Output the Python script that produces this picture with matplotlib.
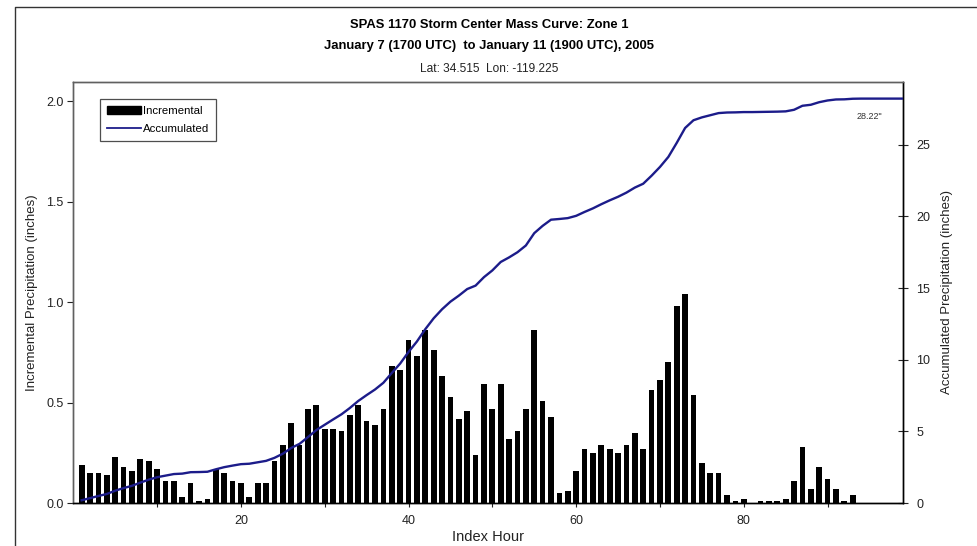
import numpy as np
import matplotlib
matplotlib.use("Agg")
import matplotlib.pyplot as plt
from matplotlib.lines import Line2D
from matplotlib.patches import Patch
from matplotlib import font_manager

# ---------------- data ----------------
hours = list(range(1, 100))

incremental = [
    0.19, 0.15, 0.15, 0.14, 0.23, 0.18, 0.16, 0.22, 0.21, 0.17,
    0.11, 0.11, 0.03, 0.10, 0.01, 0.02, 0.17, 0.15, 0.11, 0.10,
    0.03, 0.10, 0.10, 0.21, 0.29, 0.40, 0.29, 0.47, 0.49, 0.37,
    0.37, 0.36, 0.44, 0.49, 0.41, 0.39, 0.47, 0.68, 0.66, 0.81,
    0.73, 0.86, 0.76, 0.63, 0.53, 0.42, 0.46, 0.24, 0.59, 0.47,
    0.59, 0.32, 0.36, 0.47, 0.86, 0.51, 0.43, 0.05, 0.06, 0.16,
    0.27, 0.25, 0.29, 0.27, 0.25, 0.29, 0.35, 0.27, 0.56, 0.61,
    0.70, 0.98, 1.04, 0.54, 0.20, 0.15, 0.15, 0.04, 0.01, 0.02,
    0.00, 0.01, 0.01, 0.01, 0.02, 0.11, 0.28, 0.07, 0.18, 0.12,
    0.07, 0.01, 0.04, 0.00, 0.00, 0.00, 0.00, 0.00, 0.00,
]

accumulated = [
    0.19, 0.34, 0.49, 0.63, 0.86, 1.04, 1.20, 1.42, 1.63, 1.80,
    1.91, 2.02, 2.05, 2.15, 2.16, 2.18, 2.35, 2.50, 2.61, 2.71,
    2.74, 2.84, 2.94, 3.15, 3.44, 3.84, 4.13, 4.60, 5.09, 5.46,
    5.83, 6.19, 6.63, 7.12, 7.53, 7.92, 8.39, 9.07, 9.73, 10.54,
    11.27, 12.13, 12.89, 13.52, 14.05, 14.47, 14.93, 15.17, 15.76, 16.23,
    16.82, 17.14, 17.50, 17.97, 18.83, 19.34, 19.77, 19.82, 19.88, 20.04,
    20.31, 20.56, 20.85, 21.12, 21.37, 21.66, 22.01, 22.28, 22.84, 23.45,
    24.15, 25.13, 26.17, 26.71, 26.91, 27.06, 27.21, 27.25, 27.26, 27.28,
    27.28, 27.29, 27.30, 27.31, 27.33, 27.44, 27.72, 27.79, 27.97, 28.09,
    28.16, 28.17, 28.21, 28.22, 28.22, 28.22, 28.22, 28.22, 28.22,
]

title_line1 = "SPAS 1170 Storm Center Mass Curve: Zone 1"
title_line2 = "January 7 (1700 UTC)  to January 11 (1900 UTC), 2005"
subtitle = "Lat: 34.515  Lon: -119.225"
total_label = '28.22"'
left_ticks = [0.0, 0.5, 1.0, 1.5, 2.0]
right_ticks = [0, 5, 10, 15, 20, 25]
x_major = [20, 40, 60, 80]
x_minor = [10, 30, 50, 70, 90]

# ---------------- fonts ----------------
names = {f.name for f in font_manager.fontManager.ttflist}
narrow = "Liberation Sans Narrow" if "Liberation Sans Narrow" in names else "Liberation Sans"
title_size = 10.5 if narrow == "Liberation Sans Narrow" else 9.4
sub_size = 9.5 if narrow == "Liberation Sans Narrow" else 8.6
plt.rcParams['font.family'] = ['Liberation Sans', 'DejaVu Sans']

W, H = 977, 546
fig = plt.figure(figsize=(W / 100, H / 100), dpi=100)

# axes geometry (pixels)
L, R, T, B = 73.3, 903, 82, 503
ax = fig.add_axes([L / W, 1 - B / H, (R - L) / W, (B - T) / H])
ax2 = ax.twinx()

ax.bar(hours, incremental, width=0.68, color='black', zorder=2)
ax2.plot(hours, accumulated, color='#1c1c8a', lw=1.7, zorder=3)

ax.set_xlim(0, 99)
ax.set_ylim(0, (B - T) / 200.9)
ax2.set_ylim(0, (B - T) / 14.33)

ax.set_yticks(left_ticks)
ax.set_yticklabels([f"{v:.1f}" for v in left_ticks])
ax2.set_yticks(right_ticks)
ax.set_xticks(x_major)
ax.set_xticks(x_minor, minor=True)

tick_color = '#222222'
ax.tick_params(axis='y', direction='out', length=4, width=0.8, labelsize=9,
               colors=tick_color, pad=3)
ax.tick_params(axis='x', which='both', direction='out', length=3, width=0.8,
               labelsize=9, colors=tick_color, pad=6)
ax.tick_params(axis='x', which='minor', length=3)
ax2.tick_params(axis='y', direction='inout', length=7, width=0.8, labelsize=9,
                colors=tick_color, pad=6)

for sp in ['top', 'left']:
    ax.spines[sp].set_color('#606060')
    ax2.spines[sp].set_color('#606060')
ax.spines['bottom'].set_color('black')
ax2.spines['bottom'].set_color('black')
ax2.spines['right'].set_color('black')
ax.spines['right'].set_color('black')
for a in (ax, ax2):
    for sp in a.spines.values():
        sp.set_linewidth(1.0)

ax.set_ylabel("Incremental Precipitation (inches)", fontsize=9.5, color='#222222', labelpad=6)
ax2.set_ylabel("Accumulated Precipitation (inches)", fontsize=9.5, color='#222222', labelpad=8)
ax.set_xlabel("Index Hour", fontsize=10.5, color='#222222', labelpad=2)

# titles
fig.text(489 / W, 1 - 25 / H, title_line1, ha='center', va='center', fontsize=title_size,
         fontweight='bold', family=[narrow, 'DejaVu Sans'])
fig.text(489 / W, 1 - 46 / H, title_line2, ha='center', va='center', fontsize=title_size,
         fontweight='bold', family=[narrow, 'DejaVu Sans'])
fig.text(489 / W, 1 - 69 / H, subtitle, ha='center', va='center', fontsize=sub_size,
         color='#222222', family=[narrow, 'DejaVu Sans'])

# total annotation
ax2.text(95.0, 27.0, total_label, ha='center', va='center', fontsize=6.5, color='#333333')

# legend
handles = [Patch(facecolor='black', edgecolor='black'),
           Line2D([0], [0], color='#1c1c8a', lw=1.3)]
leg = ax2.legend(handles, ["Incremental", "Accumulated"], loc='upper left',
                 bbox_to_anchor=((100 - L) / (R - L), (B - 99) / (B - T)),
                 borderaxespad=0, fontsize=8.2, frameon=True, fancybox=False,
                 edgecolor='#222222', handlelength=3.0, handletextpad=0.15,
                 labelspacing=0.7, borderpad=0.6)
leg.get_frame().set_linewidth(0.9)

# outer frame lines
fig.add_artist(Line2D([15 / W, 15 / W, 1], [0, 1 - 7 / H, 1 - 7 / H],
                      transform=fig.transFigure, color='#333333', lw=1.0))

fig.savefig("out.png", dpi=100)
